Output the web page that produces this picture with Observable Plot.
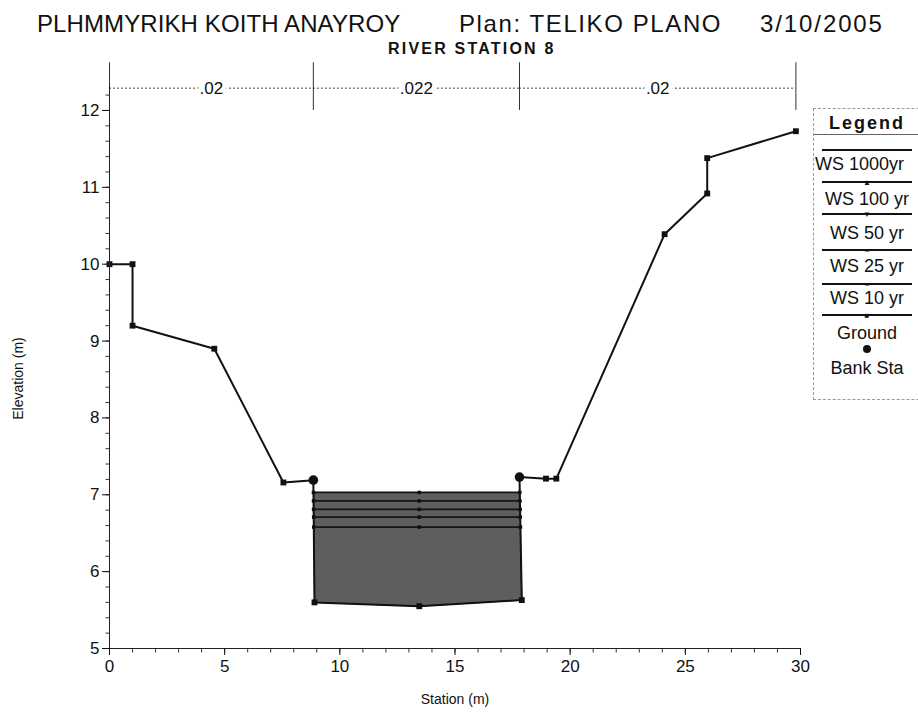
<!DOCTYPE html>
<html>
<head>
<meta charset="utf-8">
<script src="https://cdn.jsdelivr.net/npm/d3@7"></script>
<script src="https://cdn.jsdelivr.net/npm/@observablehq/plot@0.6"></script>
<style>
  html, body { margin: 0; padding: 0; background: #fff; }
  body { width: 918px; height: 717px; position: relative; overflow: hidden; font-family: "Liberation Sans", Arial, sans-serif; color: #111; }
  .t { position: absolute; white-space: nowrap; }
  #chart { position: absolute; left: 0; top: 58px; }
  #legend { position: absolute; left: 813px; top: 108px; width: 130px; height: 290px; border: 1px dashed #999; border-right: none; background: #fff; }
  .lg-line { position: absolute; left: 8px; width: 90px; height: 0; border-top: 2px solid #111; }
  .lg-text { position: absolute; left: 0; width: 106px; text-align: center; font-size: 18px; transform: translateY(-50%); white-space: nowrap; }
</style>
</head>
<body>
<div class="t" style="left:37px; top:10px; font-size:24px; letter-spacing:0.1px;">PLHMMYRIKH KOITH ANAYROY</div>
<div class="t" style="left:459px; top:10px; font-size:24px; letter-spacing:1.6px;">Plan: TELIKO PLANO</div>
<div class="t" style="left:760px; top:10px; font-size:24px; letter-spacing:1.9px;">3/10/2005</div>
<div class="t" style="left:388px; top:40px; font-size:16px; font-weight:bold; letter-spacing:2.2px;">RIVER STATION 8</div>
<div id="chart"></div>
<div id="legend"></div>
<script>
// ---- data ----
const groundStation = [0, 1.0, 1.0, 4.55, 7.55, 8.85, 8.9, 13.45, 17.9, 17.8, 18.95, 19.4, 24.1, 25.95, 25.95, 29.8];
const groundElev    = [10.0, 10.0, 9.2, 8.9, 7.16, 7.19, 5.60, 5.55, 5.63, 7.23, 7.21, 7.21, 10.39, 10.92, 11.38, 11.73];
const bankStations  = [8.85, 17.8];
const bankElev      = [7.19, 7.23];
const profiles      = ["WS 1000yr", "WS 100 yr", "WS 50 yr", "WS 25 yr", "WS 10 yr"];
const wsElev        = [7.03, 6.92, 6.81, 6.71, 6.58];
const nBreaks       = [0, 8.85, 17.8, 29.8];
const nValues       = [".02", ".022", ".02"];
const xTicks        = [0, 5, 10, 15, 20, 25, 30];
const yTicks        = [5, 6, 7, 8, 9, 10, 11, 12];
const xMinorTicks   = d3.range(0, 31, 1);
const yMinorTicks   = d3.range(5, 12.21, 0.2);
const legendLabels  = [...profiles, "Ground", "Bank Sta"];

// ---- derived ----
const ground = groundStation.map((x, i) => ({x, y: groundElev[i]}));
const banks = bankStations.map((x, i) => ({x, y: bankElev[i]}));
const iL = groundStation.indexOf(bankStations[0]);
const iR = groundStation.lastIndexOf(bankStations[1]);
function crossings(e) {
  const xs = [];
  for (let i = iL; i < iR; i++) {
    const a = ground[i], b = ground[i + 1];
    if ((a.y - e) * (b.y - e) <= 0 && a.y !== b.y) {
      const t = (e - a.y) / (b.y - a.y);
      xs.push(a.x + t * (b.x - a.x));
    }
  }
  return [xs[0], xs[xs.length - 1]];
}
const ws = profiles.map((p, i) => {
  const [xl, xr] = crossings(wsElev[i]);
  return {profile: p, elev: wsElev[i], xl, xr};
});
const topWs = ws[0];
const chanPts = ground.slice(iL, iR + 1).filter(d => d.y < topWs.elev);
const poly = [{x: topWs.xl, y: topWs.elev}, ...chanPts, {x: topWs.xr, y: topWs.elev}];
const midX = chanPts[Math.floor(chanPts.length / 2)].x;
const wsMarks = ws.flatMap(w => [w.xl, midX, w.xr].map(x => ({x, y: w.elev})));
const nElev = 12.29;
const nSegs = nValues.map((v, i) => ({x1: nBreaks[i], x2: nBreaks[i + 1], xm: (nBreaks[i] + nBreaks[i + 1]) / 2, label: v}));
const xMin = xTicks[0], yMin = yTicks[0];
const tickDown = {draw(c) { c.moveTo(0, 0); c.lineTo(0, 4); }};
const tickLeft = {draw(c) { c.moveTo(0, 0); c.lineTo(-4, 0); }};

const chart = Plot.plot({
  width: 918, height: 659,
  marginLeft: 109, marginRight: 118, marginTop: 2, marginBottom: 69,
  x: {domain: [0, 30]},
  y: {domain: [5, 12.65]},
  style: {fontFamily: "Liberation Sans, Arial, sans-serif", fontSize: "16px", color: "#111", background: "transparent"},
  marks: [
    Plot.line(poly, {x: "x", y: "y", fill: "#5e5e5e", stroke: "#333", strokeWidth: 1}),
    Plot.ruleY(ws, {y: "elev", x1: "xl", x2: "xr", stroke: "#151515", strokeWidth: 1.8}),
    Plot.dot(wsMarks, {x: "x", y: "y", symbol: "square", r: 2, fill: "#111"}),
    Plot.line(ground, {x: "x", y: "y", stroke: "#111", strokeWidth: 2}),
    Plot.dot(ground, {x: "x", y: "y", symbol: "square", r: 3.3, fill: "#111"}),
    Plot.dot(banks, {x: "x", y: "y", r: 4.8, fill: "#111"}),
    // n-values bar
    Plot.ruleY(nSegs, {y: () => nElev, x1: "x1", x2: "x2", stroke: "#444", strokeDasharray: "2,2"}),
    Plot.ruleX(nBreaks, {y1: 12.0, y2: 12.62, stroke: "#333"}),
    Plot.text(nSegs, {x: "xm", y: () => nElev, text: "label", fontSize: 17, fill: "#111", stroke: "white", strokeWidth: 10, paintOrder: "stroke"}),
    // axes
    Plot.frame({anchor: "bottom", stroke: "#222"}),
    Plot.ruleX([xMin], {y1: 5, y2: 12.35, stroke: "#222"}),
    Plot.dot(xMinorTicks, {x: d => d, y: () => yMin, symbol: tickDown, stroke: "#333", fill: "none", strokeWidth: 1}),
    Plot.dot(yMinorTicks, {x: () => xMin, y: d => d, symbol: tickLeft, stroke: "#333", fill: "none", strokeWidth: 1}),
    Plot.axisX(xTicks, {tickSize: 7, tickPadding: 4, label: null, fontSize: 17, tickFormat: d => String(d)}),
    Plot.axisY(yTicks, {tickSize: 7, tickPadding: 3, label: null, fontSize: 17, tickFormat: d => String(d)}),
    Plot.text(["Station (m)"], {frameAnchor: "bottom", dy: 55, fontSize: 14}),
    Plot.text(["Elevation (m)"], {frameAnchor: "left", textAnchor: "middle", rotate: -90, dx: -91, dy: 24, fontSize: 14})
  ]
});
document.getElementById("chart").appendChild(chart);

// ---- legend ----
const lg = document.getElementById("legend");
function add(html) { lg.insertAdjacentHTML("beforeend", html); }
add(`<div class="lg-text" style="top:14px; font-weight:bold; font-size:18px; letter-spacing:2px;">Legend</div>`);
add(`<div class="lg-line" style="top:25px; left:0; width:106px; border-top:1px solid #666;"></div>`);
const sampleY = [40, 72, 104, 140, 174, 205];
const labelY = [55, 90, 124, 157, 189, 224, 259];
const markerGlyph = ["", "▲", "▼", "=", "=", "■"];
legendLabels.forEach((lab, i) => {
  if (i < 6) {
    add(`<div class="lg-line" style="top:${sampleY[i]}px;"></div>`);
    if (markerGlyph[i]) add(`<div class="lg-text" style="top:${sampleY[i] + 1}px; font-size:8px;">${markerGlyph[i]}</div>`);
  } else {
    add(`<div style="position:absolute; left:49px; top:${240 - 4}px; width:8px; height:8px; border-radius:50%; background:#111;"></div>`);
  }
  const style = i === 0 ? "left:1px; text-align:left; width:130px;" : "";
  add(`<div class="lg-text" style="top:${labelY[i]}px; ${style}">${lab}</div>`);
});
</script>
</body>
</html>
